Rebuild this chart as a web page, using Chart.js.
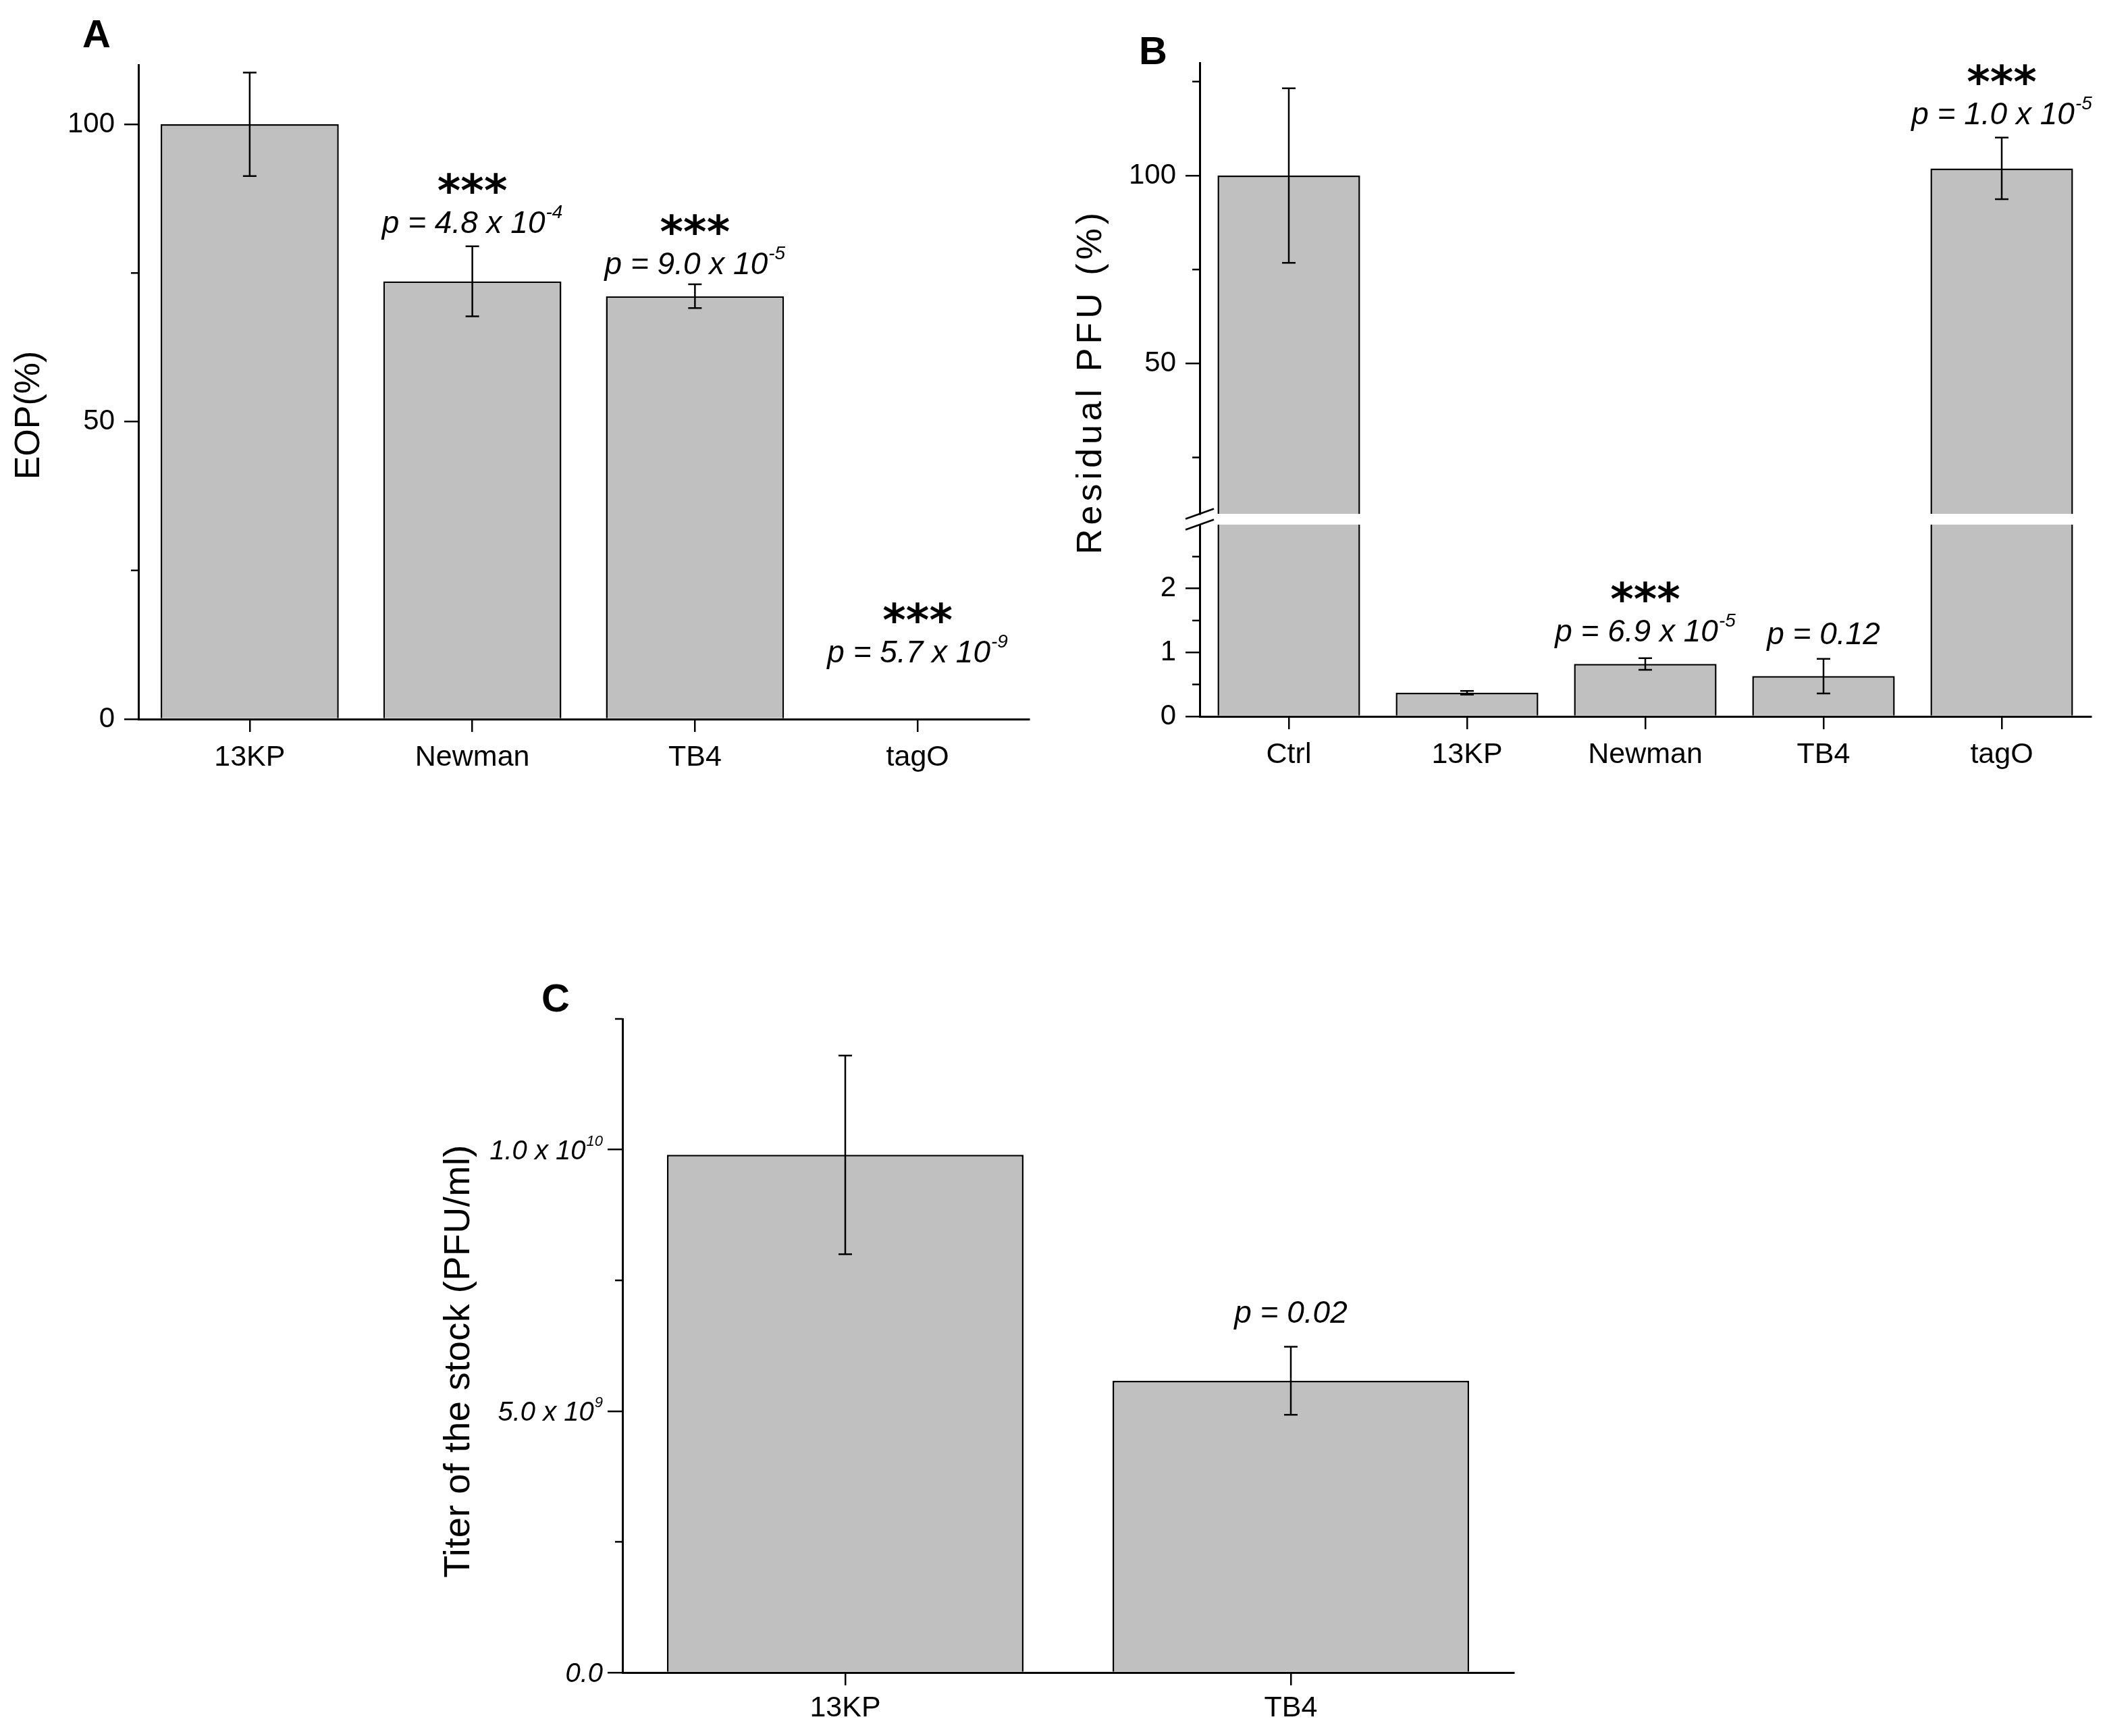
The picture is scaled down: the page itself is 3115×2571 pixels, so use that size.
<!DOCTYPE html>
<html lang="en">

<head>
    <meta charset="UTF-8">
    <title>EOP, residual PFU and titer</title>
    <style>
        body { margin: 0; width: 3115px; height: 2571px; background: #fff; position: relative; overflow: hidden; }
        canvas { position: absolute; }
        #chartA { left: 0; top: 0; }
        #chartB { left: 1560px; top: 0; }
        #chartC { left: 600px; top: 1400px; }
    </style>
</head>

<body>
    <canvas id="chartA" width="1560" height="1200"></canvas>
    <canvas id="chartB" width="1555" height="1200"></canvas>
    <canvas id="chartC" width="1715" height="1171"></canvas>

    <script src="https://cdn.jsdelivr.net/npm/chart.js"></script>

    <script>
        // A: EOP (%)
        const strainsA = ['13KP', 'Newman', 'TB4', 'tagO'];
        const eopA = [100, 73.6, 71.1, 0];
        const eopErrA = [8.7, 5.9, 2.0, 0];
        const ticksA = [0, 50, 100];
        const minorTicksA = [25, 75];
        const starsA = ['', '***', '***', '***'];
        const pValuesA = ['', '4.8 x 10^-4', '9.0 x 10^-5', '5.7 x 10^-9'];

        // B: residual PFU (%), broken axis
        const strainsB = ['Ctrl', '13KP', 'Newman', 'TB4', 'tagO'];
        const pfuB = [100, 0.37, 0.82, 0.63, 101.9];
        const pfuErrB = [23.2, 0.03, 0.09, 0.27, 8.2];
        const ticksBHigh = [50, 100];
        const minorTicksBHigh = [25, 75, 125];
        const ticksBLow = [0, 1, 2];
        const minorTicksBLow = [0.5, 1.5, 2.5];
        const starsB = ['', '', '***', '', '***'];
        const pValuesB = ['', '', '6.9 x 10^-5', '0.12', '1.0 x 10^-5'];

        // C: titer of the stock (PFU/ml)
        const strainsC = ['13KP', 'TB4'];
        const titerC = [9.9e9, 5.58e9];
        const titerErrC = [1.9e9, 0.65e9];
        const ticksC = [0, 5e9, 1e10];
        const tickLabelsC = ['0.0', '5.0 x 10^9', '1.0 x 10^10'];
        const minorTicksC = [2.5e9, 7.5e9, 1.25e10];
        const pValuesC = ['', '0.02'];

        const FONT = "'Liberation Sans', Arial, Helvetica, sans-serif";
        Chart.defaults.font.family = FONT;
        Chart.defaults.color = '#000';

        // "4.8 x 10^-4" -> base text plus raised exponent
        // align: 'center' or 'right' around x, y is the baseline
        function drawSup(ctx, text, x, y, size, supSize, rise, align) {
            const parts = text.split('^');
            ctx.font = 'italic ' + size + 'px ' + FONT;
            const wb = ctx.measureText(parts[0]).width;
            ctx.font = 'italic ' + supSize + 'px ' + FONT;
            const ws = parts[1] ? ctx.measureText(parts[1]).width + 1 : 0;
            const x0 = align === 'right' ? x - wb - ws : x - (wb + ws) / 2;
            ctx.textAlign = 'left';
            ctx.textBaseline = 'alphabetic';
            ctx.font = 'italic ' + size + 'px ' + FONT;
            ctx.fillText(parts[0], x0, y);
            if (parts[1]) {
                ctx.font = 'italic ' + supSize + 'px ' + FONT;
                ctx.fillText(parts[1], x0 + wb + 1, y - rise);
            }
        }

        function buildNotes(stars, pvals, levels, axes) {
            const out = [];
            pvals.forEach((p, i) => {
                if (!p) return;
                out.push({ i: i, stars: stars ? stars[i] : '', text: 'p = ' + p, at: levels[i], axis: axes ? axes[i] : 'y' });
            });
            return out;
        }

        const panelExtras = {
            id: 'panelExtras',
            beforeDatasetDraw(chart, args) {
                // each dataset only inside the band of its own y axis
                const ys = args.meta.yScale, a = chart.chartArea, ctx = chart.ctx;
                ctx.save();
                ctx.beginPath();
                ctx.rect(a.left, ys.top, a.right - a.left, ys.bottom - ys.top);
                ctx.clip();
            },
            afterDatasetDraw(chart, args) {
                const ctx = chart.ctx, meta = args.meta, ys = meta.yScale;
                const ds = chart.data.datasets[args.index];
                ctx.strokeStyle = '#000';
                ctx.lineWidth = 2.5;
                (ds.errors || []).forEach((e, i) => {
                    if (!e) return;
                    const bar = meta.data[i], v = ds.data[i];
                    const top = ys.getPixelForValue(v + e), bot = ys.getPixelForValue(v - e);
                    ctx.beginPath();
                    ctx.moveTo(bar.x, top); ctx.lineTo(bar.x, bot);
                    ctx.moveTo(bar.x - 10, top); ctx.lineTo(bar.x + 10, top);
                    ctx.moveTo(bar.x - 10, bot); ctx.lineTo(bar.x + 10, bot);
                    ctx.stroke();
                });
                ctx.restore();
            },
            afterDraw(chart, args, opts) {
                const ctx = chart.ctx;
                ctx.save();
                ctx.strokeStyle = '#000';
                ctx.fillStyle = '#000';
                ctx.lineWidth = 2.5;

                Object.entries(opts.minor || {}).forEach(([id, vals]) => {
                    const s = chart.scales[id];
                    vals.forEach(v => {
                        const y = s.getPixelForValue(v);
                        ctx.beginPath(); ctx.moveTo(s.right - 11, y); ctx.lineTo(s.right, y); ctx.stroke();
                    });
                });

                // tick labels with exponents
                if (opts.tickText) {
                    const s = chart.scales[opts.tickText.axis];
                    s.ticks.forEach((t, i) => {
                        const y = s.getPixelForValue(t.value);
                        drawSup(ctx, opts.tickText.labels[i], s.right - s.options.grid.tickLength - opts.tickText.pad,
                            y + 14, 40, 22, 20, 'right');
                    });
                }

                if (opts.breakAxis) {
                    const hi = chart.scales[opts.breakAxis[0]], lo = chart.scales[opts.breakAxis[1]];
                    const x = chart.chartArea.left;
                    [hi.bottom, lo.top].forEach(y => {
                        ctx.beginPath(); ctx.moveTo(x - 21, y + 7.5); ctx.lineTo(x + 21, y - 7.5); ctx.stroke();
                    });
                }

                if (opts.yTitle) {
                    const t = opts.yTitle;
                    ctx.save();
                    ctx.translate(t.x, t.y);
                    ctx.rotate(-Math.PI / 2);
                    ctx.font = t.size + 'px ' + FONT;
                    ctx.letterSpacing = (t.spacing || 0) + 'px';
                    ctx.textAlign = 'center';
                    ctx.textBaseline = 'middle';
                    ctx.fillText(t.text, 0, 0);
                    ctx.restore();
                }

                (opts.notes || []).forEach(n => {
                    const x = chart.scales.x.getPixelForValue(n.i);
                    const y = chart.scales[n.axis].getPixelForValue(n.at);
                    if (n.stars) {
                        ctx.font = "bold 66px 'DejaVu Sans'";
                        ctx.textAlign = 'center';
                        ctx.textBaseline = 'alphabetic';
                        ctx.fillText(n.stars, x, y - 40);
                    }
                    drawSup(ctx, n.text, x, y, 46, 28, 22, 'center');
                });

                if (opts.letter) {
                    ctx.font = 'bold 58px ' + FONT;
                    ctx.textAlign = 'center';
                    ctx.textBaseline = 'middle';
                    ctx.fillText(opts.letter.text, opts.letter.x, opts.letter.y);
                }
                ctx.restore();
            }
        };
        Chart.register(panelExtras);

        function xAxis(height, pad) {
            return {
                afterFit: s => { s.height = height; },
                border: { color: '#000', width: 3 },
                grid: { offset: false, drawOnChartArea: false, color: '#000', lineWidth: 2.5, tickLength: 19 },
                ticks: { font: { size: 43 }, padding: pad, color: '#000' }
            };
        }

        function yAxis(min, max, tickVals, width, extra) {
            return Object.assign({
                type: 'linear',
                min: min,
                max: max,
                afterBuildTicks: s => { s.ticks = tickVals.map(v => ({ value: v })); },
                afterFit: s => { s.width = width; },
                border: { color: '#000', width: 3 },
                grid: { drawOnChartArea: false, color: '#000', lineWidth: 2.5, tickLength: 21 },
                ticks: { font: { size: 42 }, padding: 14, color: '#000' }
            }, extra || {});
        }

        function barSet(data, errors, extra) {
            return Object.assign({
                data: data,
                errors: errors,
                backgroundColor: '#c0c0c0',
                borderColor: '#000',
                borderWidth: 2.5,
                categoryPercentage: 1,
                barPercentage: 0.8
            }, extra || {});
        }

        const baseOptions = {
            responsive: false,
            animation: false,
            devicePixelRatio: 1,
            events: []
        };

        // panel A
        new Chart(document.getElementById('chartA').getContext('2d'), {
            type: 'bar',
            data: { labels: strainsA, datasets: [barSet(eopA, eopErrA)] },
            options: Object.assign({}, baseOptions, {
                layout: { padding: { left: 0, top: 96, right: 36, bottom: 0 } },
                scales: {
                    x: xAxis(135, 12),
                    y: yAxis(0, 110, ticksA, 205)
                },
                plugins: {
                    legend: { display: false },
                    tooltip: { enabled: false },
                    panelExtras: {
                        minor: { y: minorTicksA },
                        yTitle: { text: 'EOP(%)', x: 44, y: 615, size: 52 },
                        notes: buildNotes(starsA, pValuesA, [null, 81.7, 74.8, 9.5]),
                        letter: { text: 'A', x: 143, y: 54 }
                    }
                }
            })
        });

        // panel B: two stacked y axes with a blank strip between them
        new Chart(document.getElementById('chartB').getContext('2d'), {
            type: 'bar',
            data: {
                labels: strainsB,
                datasets: [
                    barSet(pfuB, pfuErrB, { yAxisID: 'yHigh', grouped: false }),
                    barSet(pfuB, pfuErrB, { yAxisID: 'yLow', grouped: false })
                ]
            },
            options: Object.assign({}, baseOptions, {
                layout: { padding: { left: 0, top: 93, right: 18, bottom: 0 } },
                scales: {
                    x: xAxis(139, 12),
                    yLow: yAxis(0, 3, ticksBLow, 217, { stack: 'b', stackWeight: 284, weight: 1 }),
                    yGap: {
                        type: 'linear', stack: 'b', stackWeight: 16, weight: 2,
                        afterFit: s => { s.width = 217; },
                        border: { display: false }, grid: { display: false }, ticks: { display: false }
                    },
                    yHigh: yAxis(10, 130, ticksBHigh, 217, { stack: 'b', stackWeight: 668, weight: 3 })
                },
                plugins: {
                    legend: { display: false },
                    tooltip: { enabled: false },
                    panelExtras: {
                        minor: { yHigh: minorTicksBHigh, yLow: minorTicksBLow },
                        breakAxis: ['yHigh', 'yLow'],
                        yTitle: { text: 'Residual PFU (%)', x: 57, y: 565, size: 52, spacing: 6 },
                        notes: buildNotes(starsB, pValuesB, [null, null, 1.17, 1.13, 113.7],
                            ['yLow', 'yLow', 'yLow', 'yLow', 'yHigh']),
                        letter: { text: 'B', x: 148, y: 79 }
                    }
                }
            })
        });

        // panel C
        new Chart(document.getElementById('chartC').getContext('2d'), {
            type: 'bar',
            data: { labels: strainsC, datasets: [barSet(titerC, titerErrC)] },
            options: Object.assign({}, baseOptions, {
                layout: { padding: { left: 0, top: 109, right: 73, bottom: 0 } },
                scales: {
                    x: xAxis(94, 8),
                    y: yAxis(0, 1.25e10, ticksC, 322, {
                        grid: { drawOnChartArea: false, color: '#000', lineWidth: 2.5, tickLength: 22 },
                        ticks: { display: false }
                    })
                },
                plugins: {
                    legend: { display: false },
                    tooltip: { enabled: false },
                    panelExtras: {
                        minor: { y: minorTicksC },
                        tickText: { axis: 'y', labels: tickLabelsC, pad: 7 },
                        yTitle: { text: 'Titer of the stock (PFU/ml)', x: 80, y: 616, size: 54, spacing: 0.5 },
                        notes: buildNotes(null, pValuesC, [null, 6.69e9]),
                        letter: { text: 'C', x: 223, y: 82 }
                    }
                }
            })
        });
    </script>
</body>

</html>
